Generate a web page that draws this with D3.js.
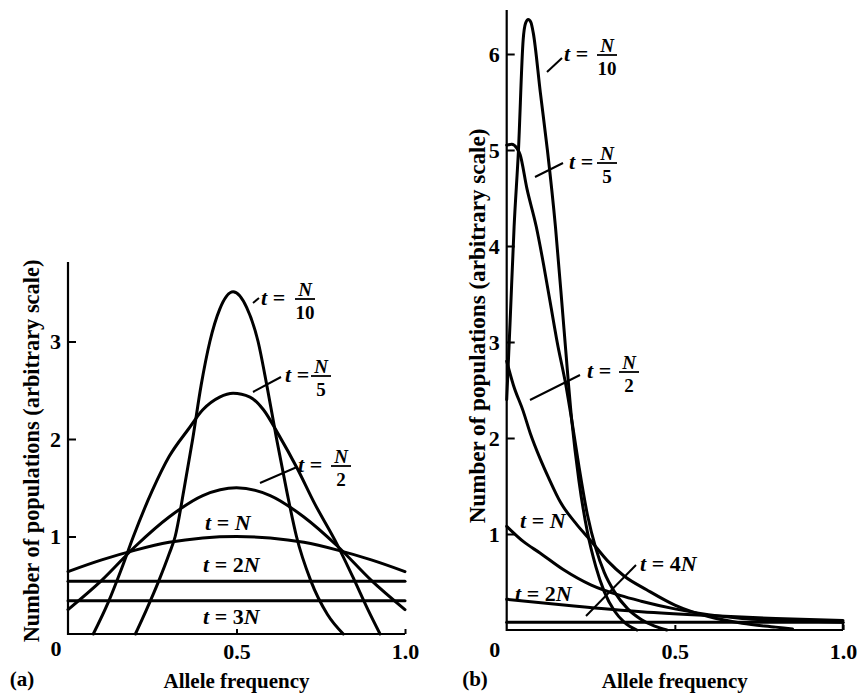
<!DOCTYPE html>
<html><head><meta charset="utf-8">
<script src="https://cdn.jsdelivr.net/npm/d3@7"></script>
<style>
body{margin:0;background:#fff}
text{font-family:"Liberation Serif","Times New Roman",serif;fill:#000}
</style>
</head><body>
<svg id="chart" width="857" height="698"></svg>
<script>
// ---------- data ----------
const xTickValues = [0.5, 1.0];
const xTickLabels = ["0.5", "1.0"];
const yTicksA = [1, 2, 3];
const yTicksB = [1, 2, 3, 4, 5, 6];
const axisTitleX = "Allele frequency";
const axisTitleY = "Number of populations (arbitrary scale)";

// Panel (a): initial frequency 0.5   [allele frequency, number of populations]
const aN10 = [[0.2,0],[0.233,0.25],[0.27,0.55],[0.3,0.82],[0.318,1.0],[0.345,1.5],[0.37,2.0],[0.395,2.55],[0.421,3.0],[0.45,3.33],[0.49,3.51],[0.53,3.35],[0.564,3.0],[0.59,2.55],[0.619,2.0],[0.65,1.45],[0.678,1.0],[0.72,0.55],[0.77,0.2],[0.817,0]];
const aN5  = [[0.075,0],[0.12,0.33],[0.16,0.68],[0.194,1.0],[0.25,1.47],[0.3,1.82],[0.357,2.1],[0.4,2.3],[0.45,2.43],[0.49,2.47],[0.54,2.43],[0.58,2.3],[0.624,2.05],[0.68,1.7],[0.73,1.35],[0.797,0.93],[0.85,0.55],[0.89,0.25],[0.926,0]];
const aN2  = [[0,0.25],[0.1,0.55],[0.2,0.9],[0.3,1.2],[0.4,1.42],[0.5,1.5],[0.6,1.42],[0.7,1.2],[0.8,0.9],[0.9,0.55],[1.0,0.25]];
const aN1  = [[0,0.64],[0.1,0.76],[0.2,0.86],[0.3,0.94],[0.4,0.985],[0.5,1.0],[0.6,0.985],[0.7,0.94],[0.8,0.86],[0.9,0.76],[1.0,0.64]];
const a2N  = [[0,0.54],[1.0,0.54]];
const a3N  = [[0,0.34],[1.0,0.34]];

// Panel (b): initial frequency 0.1
const bN10 = [[0,2.4],[0.01,3.2],[0.022,4.2],[0.035,5.0],[0.049,6.15],[0.056,6.32],[0.064,6.36],[0.072,6.33],[0.079,6.22],[0.1,5.6],[0.121,5.0],[0.145,4.2],[0.17,3.15],[0.193,2.2],[0.215,1.55],[0.24,1.02],[0.265,0.66],[0.29,0.4],[0.32,0.2],[0.35,0.08],[0.387,0]];
const bN5  = [[0,5.05],[0.015,5.06],[0.03,5.02],[0.04,4.95],[0.06,4.6],[0.088,4.2],[0.11,3.8],[0.13,3.4],[0.15,3.0],[0.176,2.55],[0.195,2.15],[0.215,1.7],[0.24,1.2],[0.265,0.85],[0.29,0.6],[0.32,0.4],[0.36,0.22],[0.4,0.11],[0.44,0.04],[0.476,0]];
const bN2  = [[0,2.8],[0.02,2.55],[0.049,2.28],[0.07,2.05],[0.1,1.78],[0.124,1.59],[0.16,1.33],[0.208,1.1],[0.25,0.93],[0.3,0.72],[0.35,0.56],[0.416,0.42],[0.5,0.26],[0.6,0.14],[0.7,0.07],[0.8,0.03],[0.85,0.01]];
const bN1  = [[0,1.08],[0.05,0.92],[0.1,0.8],[0.168,0.63],[0.25,0.47],[0.337,0.36],[0.4,0.3],[0.5,0.22],[0.6,0.16],[0.7,0.12],[0.8,0.1],[0.9,0.09],[1.0,0.08]];
const b2N  = [[0,0.32],[0.2,0.25],[0.4,0.19],[0.6,0.15],[0.8,0.12],[1.0,0.1]];
const b4N  = [[0,0.08],[1.0,0.08]];

// ---------- drawing ----------
const svg = d3.select("#chart");

function panel(cfg){
  const g = svg.append("g");
  const x = d3.scaleLinear().domain([0,1]).range([cfg.x0, cfg.x1]);
  const y = d3.scaleLinear().domain([0,cfg.yMax]).range([cfg.yBase, cfg.yTop]);
  const line = d3.line().x(d=>x(d[0])).y(d=>y(d[1])).curve(d3.curveMonotoneX);

  cfg.series.forEach(s=>{
    g.append("path").attr("d", line(s)).attr("fill","none")
     .attr("stroke","#000").attr("stroke-width",3).attr("stroke-linejoin","round").attr("stroke-linecap","round");
  });

  const ya = g.append("g").attr("transform",`translate(${cfg.x0},0)`)
    .call(d3.axisLeft(y).tickValues(cfg.yTicks).tickFormat(d3.format("d")).tickSize(-8).tickPadding(cfg.yPad));
  ya.select(".domain").remove();
  ya.selectAll("line").attr("stroke","#000").attr("stroke-width",2);
  ya.selectAll("text").attr("font-size",22).attr("font-weight","bold").attr("font-family","Liberation Serif");

  const xa = g.append("g").attr("transform",`translate(0,${cfg.yBase})`)
    .call(d3.axisBottom(x).tickValues(xTickValues).tickFormat((d,i)=>xTickLabels[i]).tickSize(-5).tickPadding(cfg.xPad));
  xa.select(".domain").remove();
  xa.selectAll("line").attr("stroke","#000").attr("stroke-width",2);
  xa.selectAll("text").attr("font-size",22).attr("font-weight","bold").attr("font-family","Liberation Serif");

  // axis lines
  g.append("line").attr("x1",cfg.x0).attr("x2",cfg.x0).attr("y1",cfg.yTop).attr("y2",cfg.yBase+1).attr("stroke","#000").attr("stroke-width",2.2);
  g.append("line").attr("x1",cfg.x0).attr("x2",cfg.x1).attr("y1",cfg.yBase).attr("y2",cfg.yBase).attr("stroke","#000").attr("stroke-width",2.2);

  // origin label
  g.append("text").attr("x",cfg.x0-12).attr("y",cfg.xLabBase).attr("text-anchor","middle")
   .attr("font-size",22).attr("font-weight","bold").text("0");

  // titles
  g.append("text").attr("x",(cfg.x0+cfg.x1)/2).attr("y",688).attr("text-anchor","middle")
   .attr("font-size",21).attr("font-weight","bold").text(axisTitleX);
  g.append("text").attr("x",cfg.tagX).attr("y",686).attr("text-anchor","middle")
   .attr("font-size",21).attr("font-weight","bold").text(cfg.tag);
  g.append("text").attr("transform",`translate(${cfg.yTitleX},${cfg.yTitleY}) rotate(-90)`)
   .attr("text-anchor","middle").attr("dy","0.35em")
   .attr("font-size",cfg.yTitleSize).attr("font-weight","bold").text(axisTitleY);
  return {g,x,y};
}

function simpleLabel(g, x0, base, num){
  const t = g.append("text").attr("x",x0).attr("y",base).attr("font-size",22).attr("font-weight","bold");
  t.append("tspan").attr("font-style","italic").text("t");
  t.append("tspan").text(" = " + num);
  t.append("tspan").attr("font-style","italic").text("N");
}
function fracLabel(g, tx, base, fx, den){
  const t = g.append("text").attr("x",tx).attr("y",base).attr("font-size",22).attr("font-weight","bold");
  t.append("tspan").attr("font-style","italic").text("t");
  t.append("tspan").text(" =");
  const bar = base - 6;
  g.append("text").attr("x",fx).attr("y",bar-3).attr("text-anchor","middle").attr("font-size",19)
   .attr("font-weight","bold").attr("font-style","italic").text("N");
  g.append("line").attr("x1",fx-10).attr("x2",fx+10).attr("y1",bar).attr("y2",bar).attr("stroke","#000").attr("stroke-width",1.8);
  g.append("text").attr("x",fx).attr("y",bar+20).attr("text-anchor","middle").attr("font-size",19)
   .attr("font-weight","bold").text(den);
}
function pointer(g,x1,y1,x2,y2){
  g.append("line").attr("x1",x1).attr("y1",y1).attr("x2",x2).attr("y2",y2).attr("stroke","#000").attr("stroke-width",2);
}

// Panel (a)
const A = panel({x0:68, x1:405, yBase:634, yTop:262, yMax:(634-262)/97.5,
  yTicks:yTicksA, yPad:7, xPad:9, xLabBase:656, tag:"(a)", tagX:22,
  yTitleX:31, yTitleY:451, yTitleSize:22.4,
  series:[aN10,aN5,aN2,aN1,a2N,a3N]});
fracLabel(A.g, 261, 305, 305, "10"); pointer(A.g,253,303,259,298);
fracLabel(A.g, 285, 382, 321, "5");  pointer(A.g,253,392,281,377);
fracLabel(A.g, 298, 472, 341, "2");  pointer(A.g,260,483,297,467);
simpleLabel(A.g, 205, 530, "");
simpleLabel(A.g, 203, 572, "2");
simpleLabel(A.g, 203, 624, "3");

// Panel (b)
const B = panel({x0:506.7, x1:843, yBase:630, yTop:10, yMax:620/96,
  yTicks:yTicksB, yPad:7, xPad:13, xLabBase:657, tag:"(b)", tagX:475,
  yTitleX:477, yTitleY:326, yTitleSize:23.1,
  series:[bN10,bN5,bN2,bN1,b2N,b4N]});
// small closing mark at right end of bottom strip
B.g.append("line").attr("x1",843).attr("x2",843).attr("y1",B.y(0.08)).attr("y2",630).attr("stroke","#000").attr("stroke-width",2.5);
fracLabel(B.g, 564, 61, 607, "10");  pointer(B.g,547,72,562,58);
fracLabel(B.g, 569, 169, 607, "5");  pointer(B.g,535,177,563,163);
fracLabel(B.g, 587, 378, 629, "2");  pointer(B.g,530,400,580,375);
simpleLabel(B.g, 520, 528, "");
simpleLabel(B.g, 515, 601, "2");
simpleLabel(B.g, 640, 571, "4");     pointer(B.g,586,616,636,565);
</script>
</body></html>
